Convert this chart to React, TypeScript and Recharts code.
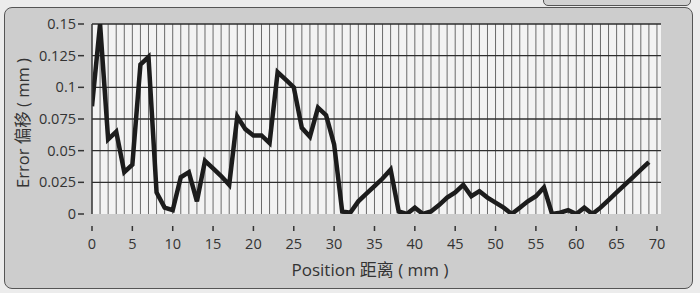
import { LineChart, Line, XAxis, YAxis, CartesianGrid } from "recharts";

// position along the part (mm)
const positions = [
  0, 1, 2, 3, 4, 5, 6, 7, 8, 9, 10, 11, 12, 13, 14, 15, 16, 17, 18, 19, 20, 21, 22, 23,
  24, 25, 26, 27, 28, 29, 30, 31, 32, 33, 34, 35, 36, 37, 38, 39, 40, 41, 42, 43, 44, 45,
  46, 47, 48, 49, 50, 51, 52, 53, 54, 55, 56, 57, 58, 59, 60, 61, 62, 63, 64, 65, 66, 67,
  68, 69,
];

// error (mm)
const errors = [
  0.085, 0.15, 0.059, 0.065, 0.033, 0.039, 0.118, 0.124, 0.017, 0.005, 0.003, 0.029,
  0.033, 0.01, 0.042, 0.036, 0.03, 0.023, 0.077, 0.067, 0.062, 0.062, 0.056, 0.112,
  0.106, 0.1, 0.068, 0.061, 0.084, 0.078, 0.055, 0.002, 0.001, 0.01, 0.016, 0.022,
  0.028, 0.035, 0.002, 0, 0.005, 0, 0.002, 0.007, 0.013, 0.017, 0.023, 0.014, 0.018,
  0.013, 0.009, 0.005, 0, 0.005, 0.01, 0.014, 0.021, 0, 0.001, 0.003, 0, 0.005, 0,
  0.005, 0.011, 0.017, 0.023, 0.029, 0.035, 0.041,
];

const xTicks = [0, 5, 10, 15, 20, 25, 30, 35, 40, 45, 50, 55, 60, 65, 70];
const yTicks = [0, 0.025, 0.05, 0.075, 0.1, 0.125, 0.15];
const xGrid = Array.from({ length: 70 }, (_, i) => i + 1);

const data = positions.map((p, i) => ({ pos: p, err: errors[i] }));

const FONT = '"Open Sans", "Noto Sans CJK SC", sans-serif';

const XTick = (props: any) => {
  const { x, y, payload } = props;
  return (
    <g>
      <line x1={x} y1={y + 4} x2={x} y2={y + 9} stroke="#333" strokeWidth={1.5} />
      <text x={x} y={y + 27} textAnchor="middle" fontSize={14.5} fill="#333" fontFamily={FONT}>
        {payload.value}
      </text>
    </g>
  );
};

const YTick = (props: any) => {
  const { x, y, payload } = props;
  return (
    <g>
      <line x1={x - 6} y1={y} x2={x} y2={y} stroke="#333" strokeWidth={1.5} />
      <text x={x - 8} y={y + 5} textAnchor="end" fontSize={14.5} fill="#333" fontFamily={FONT}>
        {payload.value}
      </text>
    </g>
  );
};

export default function App() {
  return (
    <div style={{ position: "absolute", left: 0, top: 0, width: 700, height: 293, background: "#ececec", overflow: "hidden" }}>
      <div
        style={{
          position: "absolute",
          left: 4,
          top: 7,
          width: 687,
          height: 280,
          border: "1.5px solid #555",
          borderRadius: 8,
          background: "#cdcdcd",
        }}
      />
      <div
        style={{
          position: "absolute",
          left: 543,
          top: -5,
          width: 146,
          height: 9,
          border: "1px solid #555",
          borderRadius: 5,
          background: "#d2d2d2",
        }}
      />
      <div style={{ position: "absolute", left: 0, top: 0 }}>
        <LineChart width={700} height={293} data={data} margin={{ top: 24, right: 39, bottom: 0, left: 0 }}>
          <CartesianGrid
            fill="#f3f3f3"
            stroke="#6a6a6a"
            strokeWidth={1}
            horizontal={false}
            verticalValues={xGrid}
          />
          <CartesianGrid
            stroke="#2e2e2e"
            strokeWidth={1.3}
            vertical={false}
            horizontalValues={yTicks.slice(1)}
          />
          <XAxis
            type="number"
            dataKey="pos"
            domain={[0, 70.5]}
            ticks={xTicks}
            height={79}
            axisLine={false}
            tickLine={false}
            tick={<XTick />}
            interval={0}
            allowDataOverflow
          />
          <YAxis
            type="number"
            domain={[0, 0.15]}
            ticks={yTicks}
            width={92}
            axisLine={{ stroke: "#333", strokeWidth: 1.5 }}
            tickLine={false}
            tick={<YTick />}
            interval={0}
            allowDataOverflow
          />
          <Line
            type="linear"
            dataKey="err"
            stroke="#1c1c1c"
            strokeWidth={4.5}
            strokeLinejoin="miter"
            dot={false}
            activeDot={false}
            isAnimationActive={false}
          />
        </LineChart>
      </div>
      <div
        style={{
          position: "absolute",
          left: 370,
          top: 268,
          transform: "translate(-50%, -50%)",
          fontFamily: FONT,
          fontSize: 17,
          color: "#333",
          whiteSpace: "nowrap",
        }}
      >
        Position 距离 ( mm )
      </div>
      <div
        style={{
          position: "absolute",
          left: 22,
          top: 123,
          transform: "translate(-50%, -50%) rotate(-90deg)",
          fontFamily: FONT,
          fontSize: 16.5,
          color: "#333",
          whiteSpace: "nowrap",
        }}
      >
        Error 偏移 ( mm )
      </div>
    </div>
  );
}
